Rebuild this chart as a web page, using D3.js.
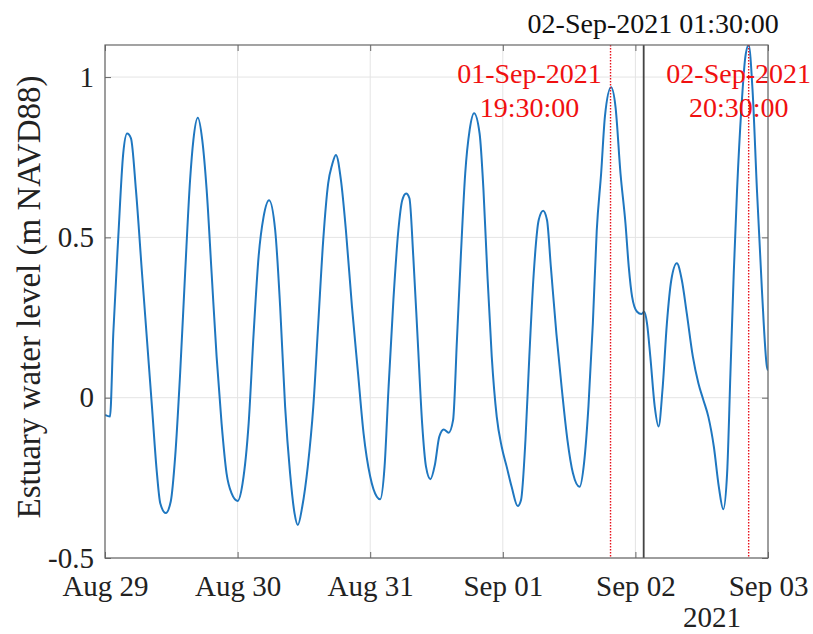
<!DOCTYPE html>
<html>
<head>
<meta charset="utf-8">
<script src="https://cdn.jsdelivr.net/npm/d3@7"></script>
<style>
  body { margin: 0; background: #fff; }
  text { font-family: "Liberation Serif", "Times New Roman", serif; }
</style>
</head>
<body>
<div id="root"></div>
<script>
// hours since 29-Aug-2021 00:00
const hours = [0, 0.9, 1.5, 2.4, 3.3, 4.0, 4.7, 5.6, 6.7, 7.6, 8.5, 9.4, 10.0, 11.0, 11.9, 12.7, 13.6, 14.5, 15.4, 16.0,
  16.8, 17.6, 18.4, 19.3, 20.2, 21.1, 22.0, 22.9, 24.0, 24.9, 26.0, 26.9, 27.8, 28.7, 29.7, 30.8, 31.7, 32.6, 33.5, 34.3,
  34.9, 35.7, 36.7, 37.7, 38.6, 39.5, 40.4, 41.1, 41.8, 42.7, 43.6, 44.7, 45.8, 46.8, 48.0, 49.2, 49.8, 50.6, 51.3, 52.2,
  53.1, 53.8, 54.5, 55.1, 55.8, 56.6, 57.4, 58.1, 58.9, 59.7, 60.5, 61.3, 62.2, 63.0, 63.7, 64.4, 65.2, 66.0, 66.8, 67.8,
  68.5, 69.2, 70.0, 70.9, 71.8, 72.7, 73.6, 74.7, 75.3, 76.1, 76.8, 77.6, 78.5, 79.3, 80.0, 80.7, 81.7, 82.7, 83.7, 84.7,
  85.9, 86.7, 87.5, 88.3, 89.0, 89.8, 90.5, 91.6, 92.4, 93.3, 94.2, 94.8, 95.4, 96.3, 97.1, 97.6, 98.1, 98.7, 99.5, 100.2,
  100.9, 101.7, 102.5, 103.5, 104.4, 105.3, 106.4, 107.4, 108.3, 109.2, 110.2, 111.1, 111.9, 112.6, 113.2, 113.8, 114.4,
  115.2, 115.9, 116.5, 117.2, 118.0, 118.9, 119.8, 120.0];

// estuary water level (m NAVD88)
const level = [-0.054, -0.059, 0.20, 0.50, 0.762, 0.824, 0.809, 0.648, 0.388, 0.18, -0.028, -0.236, -0.329, -0.36, -0.324, -0.184, 0.076, 0.388, 0.679, 0.804,
  0.873, 0.804, 0.648, 0.388, 0.128, -0.08, -0.236, -0.298, -0.322, -0.267, -0.08, 0.20, 0.44, 0.564, 0.616, 0.523, 0.284, -0.028, -0.236, -0.36,
  -0.397, -0.34, -0.215, -0.028, 0.232, 0.492, 0.669, 0.726, 0.757, 0.679, 0.523, 0.284, 0.076, -0.111, -0.246, -0.309, -0.317, -0.215, 0.024, 0.305,
  0.523, 0.616, 0.637, 0.622, 0.44, 0.18, -0.08, -0.215, -0.254, -0.21, -0.122, -0.099, -0.109, -0.07, 0.18, 0.44, 0.70, 0.835, 0.887, 0.824,
  0.648, 0.388, 0.128, -0.059, -0.153, -0.215, -0.278, -0.338, -0.319, -0.132, 0.128, 0.388, 0.554, 0.583, 0.554, 0.408, 0.20, 0.024, -0.132, -0.236,
  -0.278, -0.205, -0.028, 0.232, 0.52, 0.70, 0.88, 0.968, 0.907, 0.70, 0.544, 0.408, 0.315, 0.268, 0.261, 0.268, 0.232, 0.128, -0.028, -0.09,
  0.024, 0.232, 0.367, 0.419, 0.367, 0.263, 0.128, 0.045, -0.007, -0.059, -0.153, -0.278, -0.348, -0.236, 0.076, 0.388, 0.648,
  0.907, 1.063, 1.10, 0.96, 0.648, 0.336, 0.097, 0.085];

const yTicks = [-0.5, 0, 0.5, 1];
const yTickLabels = ["-0.5", "0", "0.5", "1"];

// marker lines
const peakTimes = ["2021-09-01T19:30", "2021-09-02T20:30"];
const peakLabels = [["01-Sep-2021", "19:30:00"], ["02-Sep-2021", "20:30:00"]];
const eventTime = "2021-09-02T01:30";
const eventLabel = "02-Sep-2021 01:30:00";

const start = new Date(2021, 7, 29);
const parse = d3.timeParse("%Y-%m-%dT%H:%M");
const data = hours.map((h, i) => ({ t: d3.timeMinute.offset(start, Math.round(h * 60)), v: level[i] }));

// Margin convention
const margin = { top: 45, right: 45, bottom: 76, left: 105 },
  width = 813 - margin.left - margin.right,
  height = 634 - margin.top - margin.bottom;

const svg = d3.select("#root")
  .append("svg")
  .attr("width", 813)
  .attr("height", 634)
  .append("g")
  .attr("transform", "translate(" + margin.left + "," + margin.top + ")");

const x = d3.scaleTime()
  .domain([start, new Date(2021, 8, 3)])
  .range([0, width]);

const y = d3.scaleLinear()
  .domain([-0.5, 1.1])
  .range([height, 0]);

const xTicks = d3.timeDay.range(start, new Date(2021, 8, 3, 1));

// grid
svg.append("g")
  .selectAll("line.gx")
  .data(xTicks)
  .enter().append("line")
  .attr("x1", d => x(d)).attr("x2", d => x(d))
  .attr("y1", 0).attr("y2", height)
  .attr("stroke", "#e4e4e4");
svg.append("g")
  .selectAll("line.gy")
  .data(yTicks)
  .enter().append("line")
  .attr("x1", 0).attr("x2", width)
  .attr("y1", d => y(d)).attr("y2", d => y(d))
  .attr("stroke", "#e4e4e4");

// X axis
svg.append("g")
  .attr("transform", "translate(0," + height + ")")
  .call(d3.axisBottom(x).tickValues(xTicks).tickFormat(d3.timeFormat("%b %d"))
    .tickSizeInner(-6).tickSizeOuter(0).tickPadding(17));
svg.append("g")
  .call(d3.axisTop(x).tickValues(xTicks).tickFormat("").tickSizeInner(-6).tickSizeOuter(0));

// Y axis
svg.append("g")
  .call(d3.axisLeft(y).tickValues(yTicks).tickFormat((d, i) => yTickLabels[i])
    .tickSizeInner(-6).tickSizeOuter(0).tickPadding(11));
svg.append("g")
  .attr("transform", "translate(" + width + ",0)")
  .call(d3.axisRight(y).tickValues(yTicks).tickFormat("").tickSizeInner(-6).tickSizeOuter(0));

svg.selectAll(".domain").remove();
svg.selectAll(".tick line").attr("stroke", "#666");
svg.selectAll(".tick text")
  .attr("font-size", 29)
  .attr("font-family", "Liberation Serif, Times New Roman, serif")
  .attr("fill", "#222");

// year under last tick
svg.append("text")
  .attr("x", width - 56)
  .attr("y", height + 69)
  .attr("text-anchor", "middle")
  .attr("font-size", 29)
  .attr("fill", "#222")
  .text("2021");

// y label
svg.append("text")
  .attr("transform", "translate(" + (40 - margin.left) + "," + (297 - margin.top) + ")rotate(-90)")
  .attr("text-anchor", "middle")
  .attr("font-size", 33)
  .attr("fill", "#222")
  .text("Estuary water level (m NAVD88)");

// clip
svg.append("clipPath").attr("id", "clip")
  .append("rect").attr("width", width).attr("height", height);

// water level line
svg.append("path")
  .datum(data)
  .attr("clip-path", "url(#clip)")
  .attr("fill", "none")
  .attr("stroke", "#1f77c0")
  .attr("stroke-width", 2)
  .attr("d", d3.line()
    .x(d => x(d.t))
    .y(d => y(d.v))
    .curve(d3.curveMonotoneX));

// event line (black)
const ev = x(parse(eventTime));
svg.append("line")
  .attr("x1", ev).attr("x2", ev)
  .attr("y1", 0).attr("y2", height)
  .attr("stroke", "#444")
  .attr("stroke-width", 1.8);
svg.append("text")
  .attr("x", ev + 9.5)
  .attr("y", -12)
  .attr("text-anchor", "middle")
  .attr("font-size", 28)
  .attr("fill", "#111")
  .text(eventLabel);

// peak lines (red dotted)
const labelShift = [-81, -10];
peakTimes.forEach((pt, i) => {
  const px = x(parse(pt));
  svg.append("line")
    .attr("x1", px).attr("x2", px)
    .attr("y1", 0).attr("y2", height)
    .attr("stroke", "#e8101a")
    .attr("stroke-width", 1.4)
    .attr("stroke-dasharray", "1.5,1.5");
  const t = svg.append("text")
    .attr("text-anchor", "middle")
    .attr("font-size", 28)
    .attr("fill", "#f01010");
  peakLabels[i].forEach((s, j) => {
    t.append("tspan")
      .attr("x", px + labelShift[i])
      .attr("y", 38 + j * 33.5)
      .text(s);
  });
});

// box
svg.append("rect")
  .attr("width", width)
  .attr("height", height)
  .attr("fill", "none")
  .attr("stroke", "#666")
  .attr("stroke-width", 1.2);
</script>
</body>
</html>
